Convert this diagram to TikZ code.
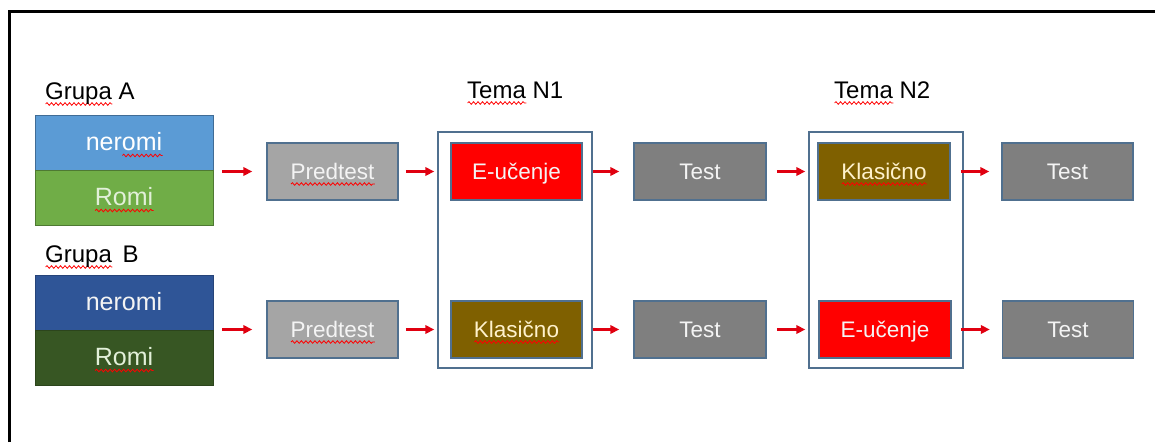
\documentclass[tikz,border=0pt]{standalone}
\usepackage{fontspec}
\setmainfont{Liberation Sans}
\usetikzlibrary{arrows.meta,decorations.pathmorphing}
\definecolor{bluA}{HTML}{5B9BD5}
\definecolor{grnA}{HTML}{70AD47}
\definecolor{bluB}{HTML}{2F5597}
\definecolor{grnB}{HTML}{375623}
\definecolor{predgray}{HTML}{A5A5A5}
\definecolor{testgray}{HTML}{7F7F7F}
\definecolor{klbrown}{HTML}{7F6000}
\definecolor{ered}{HTML}{FF0000}
\definecolor{edgeblue}{HTML}{50708F}
\definecolor{arrred}{HTML}{E00010}
\definecolor{lightgrn}{HTML}{E2F0D9}
\definecolor{lightyel}{HTML}{FFF2CC}
\definecolor{offwhite}{HTML}{F4F4F4}
\newsavebox\wavybox
\newcommand\wavy[1]{\sbox\wavybox{#1}\rlap{\smash{\pgfinterruptpicture\tikz[baseline=0pt]{\draw[red,line width=0.8pt,decorate,decoration={snake,amplitude=1.3pt,segment length=4.5pt}] (0pt,-5pt) -- (\the\wd\wavybox,-5pt);}\endpgfinterruptpicture}}\usebox\wavybox}
\tikzset{
  grpbox/.style={rectangle, minimum width=178pt, minimum height=55pt, inner sep=0pt, line width=0.8pt, text height=21pt, text depth=5pt, font=\fontsize{25}{30}\selectfont},
  stepbox/.style={rectangle, minimum width=131pt, minimum height=57pt, inner sep=0pt, draw=edgeblue, line width=1.5pt, text height=20pt, text depth=5pt, font=\fontsize{22.5}{27}\selectfont, text=offwhite},
  temabox/.style={rectangle, minimum width=154pt, minimum height=236pt, inner sep=0pt, draw=edgeblue, line width=1.5pt, fill=white},
  lbl/.style={anchor=base west, inner sep=0pt, font=\fontsize{24}{28}\selectfont, text=black},
  arr/.style={draw=arrred, line width=2.6pt, -{Triangle[length=9pt,width=8.5pt]}}
}
\begin{document}
\begin{tikzpicture}[x=1pt,y=-1pt]
\useasboundingbox (0,0) rectangle (1155,442);
\fill[white] (0,0) rectangle (1155,442);
% frame
\draw[line width=3pt] (9,442) -- (9,11.5) -- (1155,11.5);
% labels
\node[lbl] (grA) at (45,99) {\wavy{Grupa} A};
\node[lbl] (grB) at (45,262) {\wavy{Grupa}\ \,B};
\node[lbl] (t1) at (467,98) {\wavy{Tema} N1};
\node[lbl] (t2) at (834,98) {\wavy{Tema} N2};
% group boxes
\node[grpbox, fill=bluA, draw=bluA!70!black, text=white] (nerA) at (124,142.5) {ner\wavy{omi}};
\node[grpbox, fill=grnA, draw=grnA!70!black, text=lightgrn] (romA) at (124,197.5) {\wavy{Romi}};
\node[grpbox, fill=bluB, draw=bluB!80!black, text=offwhite] (nerB) at (124,302.5) {neromi};
\node[grpbox, fill=grnB, draw=grnB!80!black, text=lightgrn] (romB) at (124,357.5) {\wavy{Romi}};
\coordinate (gA) at (213,171.5);
\coordinate (gB) at (213,329.5);
% tema frames
\node[temabox] (tema1) at (515,250) {};
\node[temabox] (tema2) at (886,250) {};
% row A
\node[stepbox, fill=predgray] (predA) at (332.5,171.5) {\wavy{Predtest}};
\node[stepbox, fill=ered] (eA) at (516.5,171.5) {E-\wavy{učenje}};
\node[stepbox, fill=testgray, minimum width=132pt] (testA1) at (700,171.5) {Test};
\node[stepbox, fill=klbrown, text=lightyel, minimum width=132pt] (klA) at (884,171.5) {\wavy{Klasično}};
\node[stepbox, fill=testgray] (testA2) at (1067.5,171.5) {Test};
% row B
\node[stepbox, fill=predgray] (predB) at (332.5,329.5) {\wavy{Predtest}};
\node[stepbox, fill=klbrown, text=lightyel] (klB) at (516.5,329.5) {\wavy{Klasično}};
\node[stepbox, fill=testgray, minimum width=132pt] (testB1) at (700,329.5) {Test};
\node[stepbox, fill=ered, minimum width=132pt] (eB) at (885,329.5) {E-\wavy{učenje}};
\node[stepbox, fill=testgray] (testB2) at (1068,329.5) {Test};
% arrows row A
\draw[arr, shorten <=9pt, shorten >=14pt] (gA) -- (predA.west);
\draw[arr, shorten <=7pt, shorten >=3pt] (predA.east) -- (predA.east -| tema1.west);
\draw[arr, shorten >=14pt] (eA.east -| tema1.east) -- (testA1.west);
\draw[arr, shorten <=10pt, shorten >=3pt] (testA1.east) -- (testA1.east -| tema2.west);
\draw[arr, shorten <=-3pt, shorten >=12pt] (klA.east -| tema2.east) -- (testA2.west);
% arrows row B
\draw[arr, shorten <=9pt, shorten >=14pt] (gB) -- (predB.west);
\draw[arr, shorten <=7pt, shorten >=3pt] (predB.east) -- (predB.east -| tema1.west);
\draw[arr, shorten >=14pt] (klB.east -| tema1.east) -- (testB1.west);
\draw[arr, shorten <=10pt, shorten >=3pt] (testB1.east) -- (testB1.east -| tema2.west);
\draw[arr, shorten <=-3pt, shorten >=12pt] (eB.east -| tema2.east) -- (testB2.west);
\end{tikzpicture}
\end{document}
